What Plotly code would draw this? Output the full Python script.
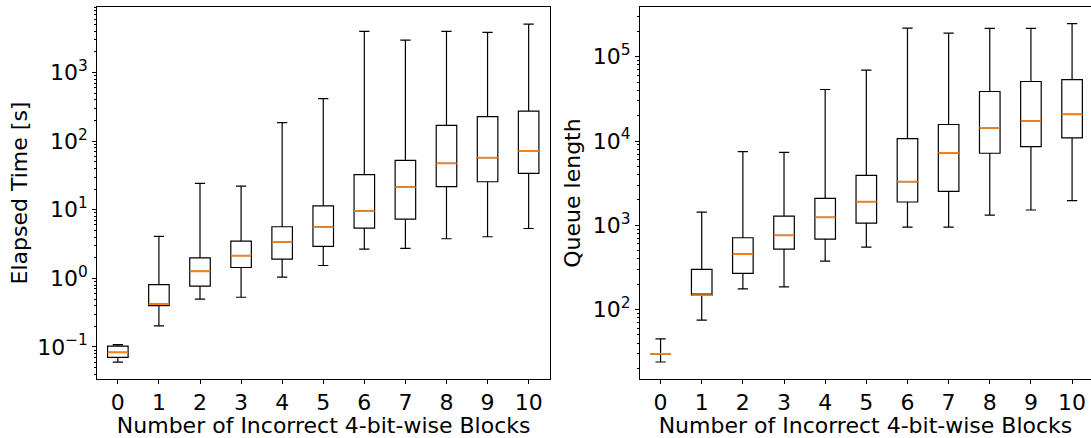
import plotly.graph_objects as go

# ---------------- data ----------------
blocks = list(range(11))
x_ticklabels = [str(b) for b in blocks]

# Elapsed time [s]
t_low = [0.060, 0.203, 0.497, 0.53, 1.04, 1.54, 2.67, 2.73, 3.78, 4.04, 5.33]
t_q1 = [0.0706, 0.40, 0.77, 1.44, 1.91, 2.92, 5.40, 7.31, 21.7, 25.6, 33.9]
t_med = [0.0835, 0.42, 1.27, 2.15, 3.41, 5.59, 9.57, 21.4, 47.5, 57.4, 71.8]
t_q3 = [0.103, 0.81, 1.99, 3.49, 5.65, 11.4, 32.4, 52.5, 170, 228, 273]
t_high = [0.108, 4.08, 24.2, 22.1, 186, 417, 3970, 2965, 3970, 3837, 5080]

# Queue length
q_low = [23.8, 74.6, 176, 186, 375, 550, 952, 952, 1322, 1517, 1959]
q_q1 = [29.7, 148, 268, 521, 686, 1062, 1888, 2528, 7160, 8590, 10900]
q_med = [29.7, 148, 455, 758, 1240, 1904, 3293, 7220, 14300, 17200, 20800]
q_q3 = [29.7, 299, 711, 1285, 2085, 3918, 10700, 15700, 38700, 50900, 53700]
q_high = [44.8, 1436, 7480, 7350, 40900, 69400, 219000, 191000, 217000, 217000, 247000]

t_tickvals = [0.1, 1, 10, 100, 1000]
t_ticktext = ["10<sup>\u22121</sup>", "10<sup>0</sup>", "10<sup>1</sup>", "10<sup>2</sup>", "10<sup>3</sup>"]
q_tickvals = [100, 1000, 10000, 100000]
q_ticktext = ["10<sup>2</sup>", "10<sup>3</sup>", "10<sup>4</sup>", "10<sup>5</sup>"]

x_title = "Number of Incorrect 4-bit-wise Blocks"
t_title = "Elapsed Time [s]"
q_title = "Queue length"

# ---------------- figure ----------------
W, H = 1091, 438
FONT = dict(family="DejaVu Sans", size=22, color="black")
BOX_W = 0.5
LW = 1.2

fig = go.Figure()


def add_boxes(xa, ya, lo, q1, med, q3, hi):
    # black box + whiskers
    fig.add_trace(go.Box(
        x=blocks, q1=q1, median=med, q3=q3, lowerfence=lo, upperfence=hi,
        xaxis=xa, yaxis=ya, width=BOX_W, whiskerwidth=0.5, boxpoints=False,
        line=dict(color="black", width=LW), fillcolor="rgba(0,0,0,0)",
        showlegend=False, hoverinfo="skip"))
    # orange median lines (degenerate boxes at the median, drawn on top)
    fig.add_trace(go.Box(
        x=blocks, q1=med, median=med, q3=med, lowerfence=med, upperfence=med,
        xaxis=xa, yaxis=ya, width=BOX_W, whiskerwidth=0, boxpoints=False,
        line=dict(color="#ff7f0e", width=1.8), fillcolor="rgba(0,0,0,0)",
        showlegend=False, hoverinfo="skip"))


add_boxes("x", "y", t_low, t_q1, t_med, t_q3, t_high)
add_boxes("x2", "y2", q_low, q_q1, q_med, q_q3, q_high)


def minor_vals(lo_exp, hi_exp):
    return [k * 10 ** e for e in range(lo_exp, hi_exp + 1) for k in range(2, 10)]


xcommon = dict(
    tickmode="array", tickvals=blocks, ticktext=x_ticklabels,
    ticks="outside", ticklen=4, tickwidth=1, tickcolor="black",
    showline=True, linecolor="black", linewidth=1,
    showgrid=False, zeroline=False, tickfont=FONT, automargin=False,
    title=dict(text=x_title, font=FONT, standoff=2),
)
ycommon = dict(
    type="log", tickmode="array",
    ticks="outside", ticklen=4, tickwidth=1, tickcolor="black",
    showline=True, linecolor="black", linewidth=1,
    showgrid=False, zeroline=False, tickfont=FONT, automargin=False,
    domain=[0, 1],
)

fig.update_layout(
    width=W, height=H,
    margin=dict(l=0, r=0, t=7, b=59),
    paper_bgcolor="white", plot_bgcolor="white",
    boxmode="overlay",
    font=FONT,
    xaxis=dict(domain=[97.3 / W, 550 / W], range=[-0.5, 10.52], anchor="y",
               mirror=True, **xcommon),
    yaxis=dict(range=[-1.467, 3.955], anchor="x", mirror=True,
               tickvals=t_tickvals, ticktext=t_ticktext,
               minor=dict(ticks="outside", ticklen=2, tickwidth=0.8, tickcolor="black",
                          tickmode="array", tickvals=minor_vals(-2, 3), showgrid=False),
               title=dict(text=t_title, font=FONT, standoff=3),
               **ycommon),
    xaxis2=dict(domain=[640 / W, 1.0], range=[-0.5, 10.46], anchor="y2",
                mirror=True, **xcommon),
    yaxis2=dict(range=[1.175, 5.591], anchor="x2", mirror=False,
                tickvals=q_tickvals, ticktext=q_ticktext,
                minor=dict(ticks="outside", ticklen=2, tickwidth=0.8, tickcolor="black",
                           tickmode="array", tickvals=minor_vals(1, 5), showgrid=False),
                title=dict(text=q_title, font=FONT, standoff=6),
                **ycommon),
)

fig.write_html("out.html", config={"displayModeBar": False},
               post_script="document.body.style.margin='0';")
